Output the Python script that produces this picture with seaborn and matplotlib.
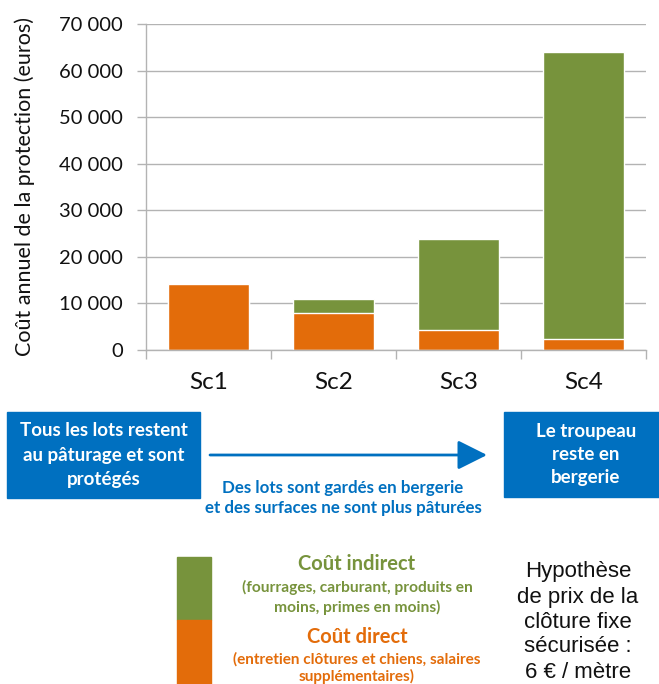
import matplotlib
matplotlib.use('Agg')
import matplotlib.pyplot as plt
from matplotlib.patches import Rectangle
from matplotlib.ticker import FuncFormatter, FixedLocator
import pandas as pd
import seaborn as sns

# data
scenarios = ['Sc1', 'Sc2', 'Sc3', 'Sc4']
cout_direct = [14200, 8000, 4400, 2400]
cout_indirect = [0, 3000, 19400, 61600]
y_ticks = [0, 10000, 20000, 30000, 40000, 50000, 60000, 70000]

ORANGE = '#E36C0A'
GREEN = '#77933C'
BLUE = '#0070C0'
GRID = '#B3B3B3'

df = pd.DataFrame({'scenario': scenarios, 'direct': cout_direct, 'indirect': cout_indirect})
df['total'] = df['direct'] + df['indirect']

sns.set_style('white')
plt.rcParams['font.family'] = 'Lato'

W, H = 659, 684
fig = plt.figure(figsize=(W / 100, H / 100), dpi=100)
ax = fig.add_axes([146 / W, 1 - 350 / H, 500 / W, 326 / H])

# green = total (indirect on top), orange drawn over it = direct
sns.barplot(data=df, x='scenario', y='total', color=GREEN, saturation=1,
            width=0.65, errorbar=None, ax=ax)
sns.barplot(data=df, x='scenario', y='direct', color=ORANGE, saturation=1,
            width=0.65, errorbar=None, ax=ax)

ax.set_xlim(-0.5, 3.5)
ax.set_ylim(0, 70000)
ax.set_yticks(y_ticks)
ax.yaxis.set_major_formatter(FuncFormatter(lambda v, p: f'{v:,.0f}'.replace(',', ' ')))
ax.yaxis.grid(True, color=GRID, linewidth=1)
ax.set_axisbelow(True)
for s in ['top', 'right']:
    ax.spines[s].set_visible(False)
for s in ['left', 'bottom']:
    ax.spines[s].set_color(GRID)
    ax.spines[s].set_linewidth(1)

ax.tick_params(axis='y', which='major', direction='out', length=6.5, width=1,
               color=GRID, pad=10, labelsize=14.5, labelcolor='#111111', left=True)
ax.xaxis.set_minor_locator(FixedLocator([-0.5, 0.5, 1.5, 2.5, 3.5]))
ax.tick_params(axis='x', which='minor', direction='out', length=6.5, width=1,
               color=GRID, bottom=True)
ax.tick_params(axis='x', which='major', length=0, pad=16, labelsize=17.5,
               labelcolor='#111111')
ax.set_xlabel('')
ax.set_ylabel('Coût annuel de la protection (euros)', fontsize=15.5, color='#111111')
ax.yaxis.set_label_coords((35 - 146) / 500, 0.5)


def fy(y):
    return 1 - y / H


def lines(x, ys, texts, **kw):
    for y, t in zip(ys, texts):
        fig.text(x / W, fy(y), t, ha='center', va='center', **kw)


# boxes under the chart
fig.patches.append(Rectangle((7 / W, fy(498)), 193 / W, 86 / H, color=BLUE,
                             transform=fig.transFigure, zorder=0))
fig.patches.append(Rectangle((504 / W, fy(497)), 170 / W, 85 / H, color=BLUE,
                             transform=fig.transFigure, zorder=0))
lines(103.5, [431, 456, 480],
      ['Tous les lots restent', 'au pâturage et sont', 'protégés'],
      color='white', fontsize=13.5, fontweight='bold')
lines(586, [431, 454, 478], ['Le troupeau', 'reste en', 'bergerie'],
      color='white', fontsize=13.5, fontweight='bold')

ax.annotate('', xy=(487, H - 455), xytext=(210, H - 455),
            xycoords='figure pixels', textcoords='figure pixels',
            arrowprops=dict(arrowstyle='-|>,head_length=0.9,head_width=0.45',
                            color=BLUE, lw=2, mutation_scale=20, shrinkA=0, shrinkB=0))
lines(343, [488, 508],
      ['Des lots sont gardés en bergerie', 'et des surfaces ne sont plus pâturées'],
      color=BLUE, fontsize=12.2, fontweight='bold')

# legend
fig.patches.append(Rectangle((177 / W, fy(620)), 34 / W, 63 / H, color=GREEN,
                             transform=fig.transFigure))
fig.patches.append(Rectangle((177 / W, fy(690)), 34 / W, 70 / H, color=ORANGE,
                             transform=fig.transFigure))
lines(357, [564], ['Coût indirect'], color=GREEN, fontsize=14.5, fontweight='bold')
lines(357, [587, 607], ['(fourrages, carburant, produits en', 'moins, primes en moins)'],
      color=GREEN, fontsize=11.2, fontweight='bold')
lines(357, [637], ['Coût direct'], color=ORANGE, fontsize=14.5, fontweight='bold')
lines(357, [659, 676], ['(entretien clôtures et chiens, salaires', 'supplémentaires)'],
      color=ORANGE, fontsize=11, fontweight='bold')

lines(578, [571, 597, 622, 647, 673],
      ['Hypothèse', 'de prix de la', 'clôture fixe', 'sécurisée :', '6 € / mètre'],
      color='#111111', fontsize=16, family='Liberation Sans')

plt.savefig('out.png', dpi=100)
plt.close()
